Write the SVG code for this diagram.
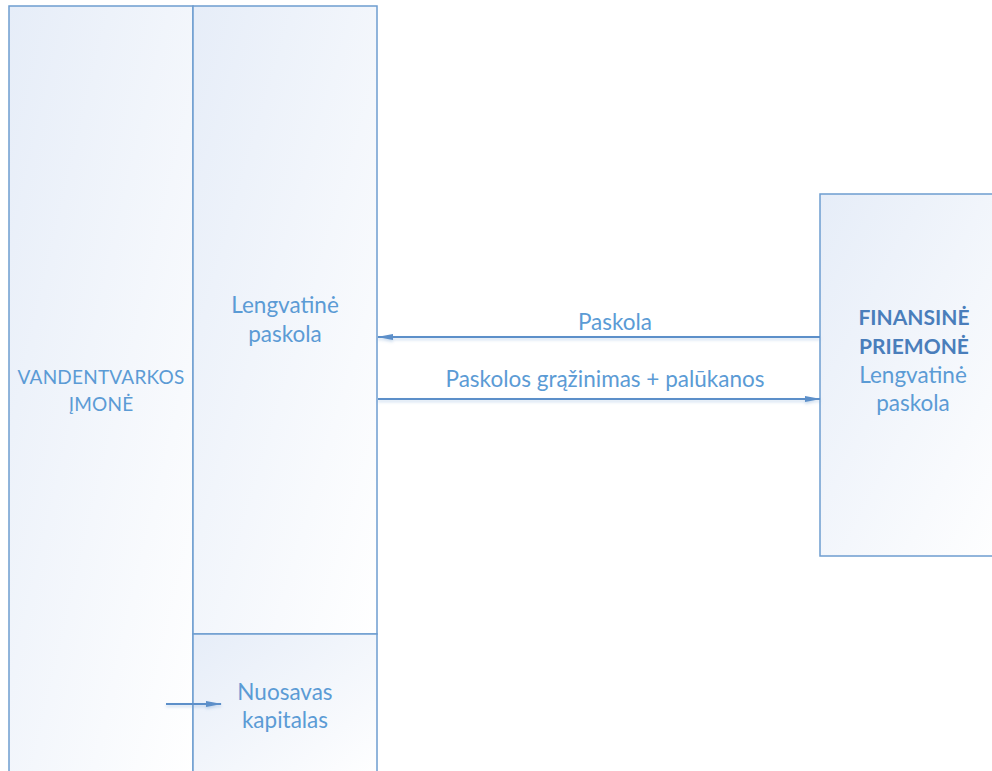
<svg xmlns="http://www.w3.org/2000/svg" width="992" height="771" viewBox="0 0 992 771">
<defs>
<linearGradient id="fill" x1="0" y1="0" x2="1" y2="1">
<stop offset="0" stop-color="#E6EDF8"/>
<stop offset="1" stop-color="#FFFFFF"/>
</linearGradient>
<marker id="ah" viewBox="0 0 16 8" refX="15" refY="4" markerWidth="16" markerHeight="8" markerUnits="userSpaceOnUse" orient="auto">
<path d="M0,1 L16,4 L0,7 Z" fill="#5B8FC9"/>
</marker>
<filter id="sh" filterUnits="userSpaceOnUse" x="0" y="0" width="992" height="771">
<feGaussianBlur in="SourceAlpha" stdDeviation="1.5"/>
<feOffset dy="2" result="b"/>
<feFlood flood-color="#6C9BCF" flood-opacity="0.35"/>
<feComposite in2="b" operator="in"/>
<feMerge><feMergeNode/><feMergeNode in="SourceGraphic"/></feMerge>
</filter>
</defs>
<style>
.box{fill:url(#fill);stroke:#6E9DD0;stroke-width:1.5}
.t{font-family:Lato,"Open Sans","Liberation Sans",sans-serif;font-size:19px;fill:#5B9BD5;text-anchor:middle}
.v{letter-spacing:0.2px}
.l{font-size:22.5px}
.b{font-weight:bold;fill:#4A7EBB;font-size:21px}
.c{stroke:#5B8FC9;stroke-width:2;fill:none;marker-end:url(#ah);filter:url(#sh)}
</style>
<rect width="992" height="771" fill="#FFFFFF"/>
<g id="vandentvarkos">
<rect class="box" x="9" y="6" width="184" height="780"/>
<text class="t v" x="101" y="384">VANDENTVARKOS</text>
<text class="t v" x="101" y="411">ĮMONĖ</text>
</g>
<g id="lengvatine">
<rect class="box" x="193" y="6" width="184" height="628"/>
<text class="t l" x="285" y="313">Lengvatinė</text>
<text class="t l" x="285" y="342">paskola</text>
</g>
<g id="nuosavas">
<rect class="box" x="193" y="634" width="184" height="150"/>
<text class="t l" x="285" y="700">Nuosavas</text>
<text class="t l" x="285" y="728">kapitalas</text>
</g>
<g id="finansine">
<rect class="box" x="820" y="194" width="190" height="362"/>
<text class="t b" x="914" y="325">FINANSINĖ</text>
<text class="t b" x="914" y="354">PRIEMONĖ</text>
<text class="t l" x="913" y="383">Lengvatinė</text>
<text class="t l" x="913" y="411">paskola</text>
</g>
<g id="connectors">
<path class="c" d="M820,337 L378,337"/>
<text class="t l" x="615" y="330">Paskola</text>
<path class="c" d="M378,399 L820,399"/>
<text class="t l" x="605" y="387">Paskolos grąžinimas + palūkanos</text>
<path class="c" d="M166,704 L221,704"/>
</g>
</svg>
